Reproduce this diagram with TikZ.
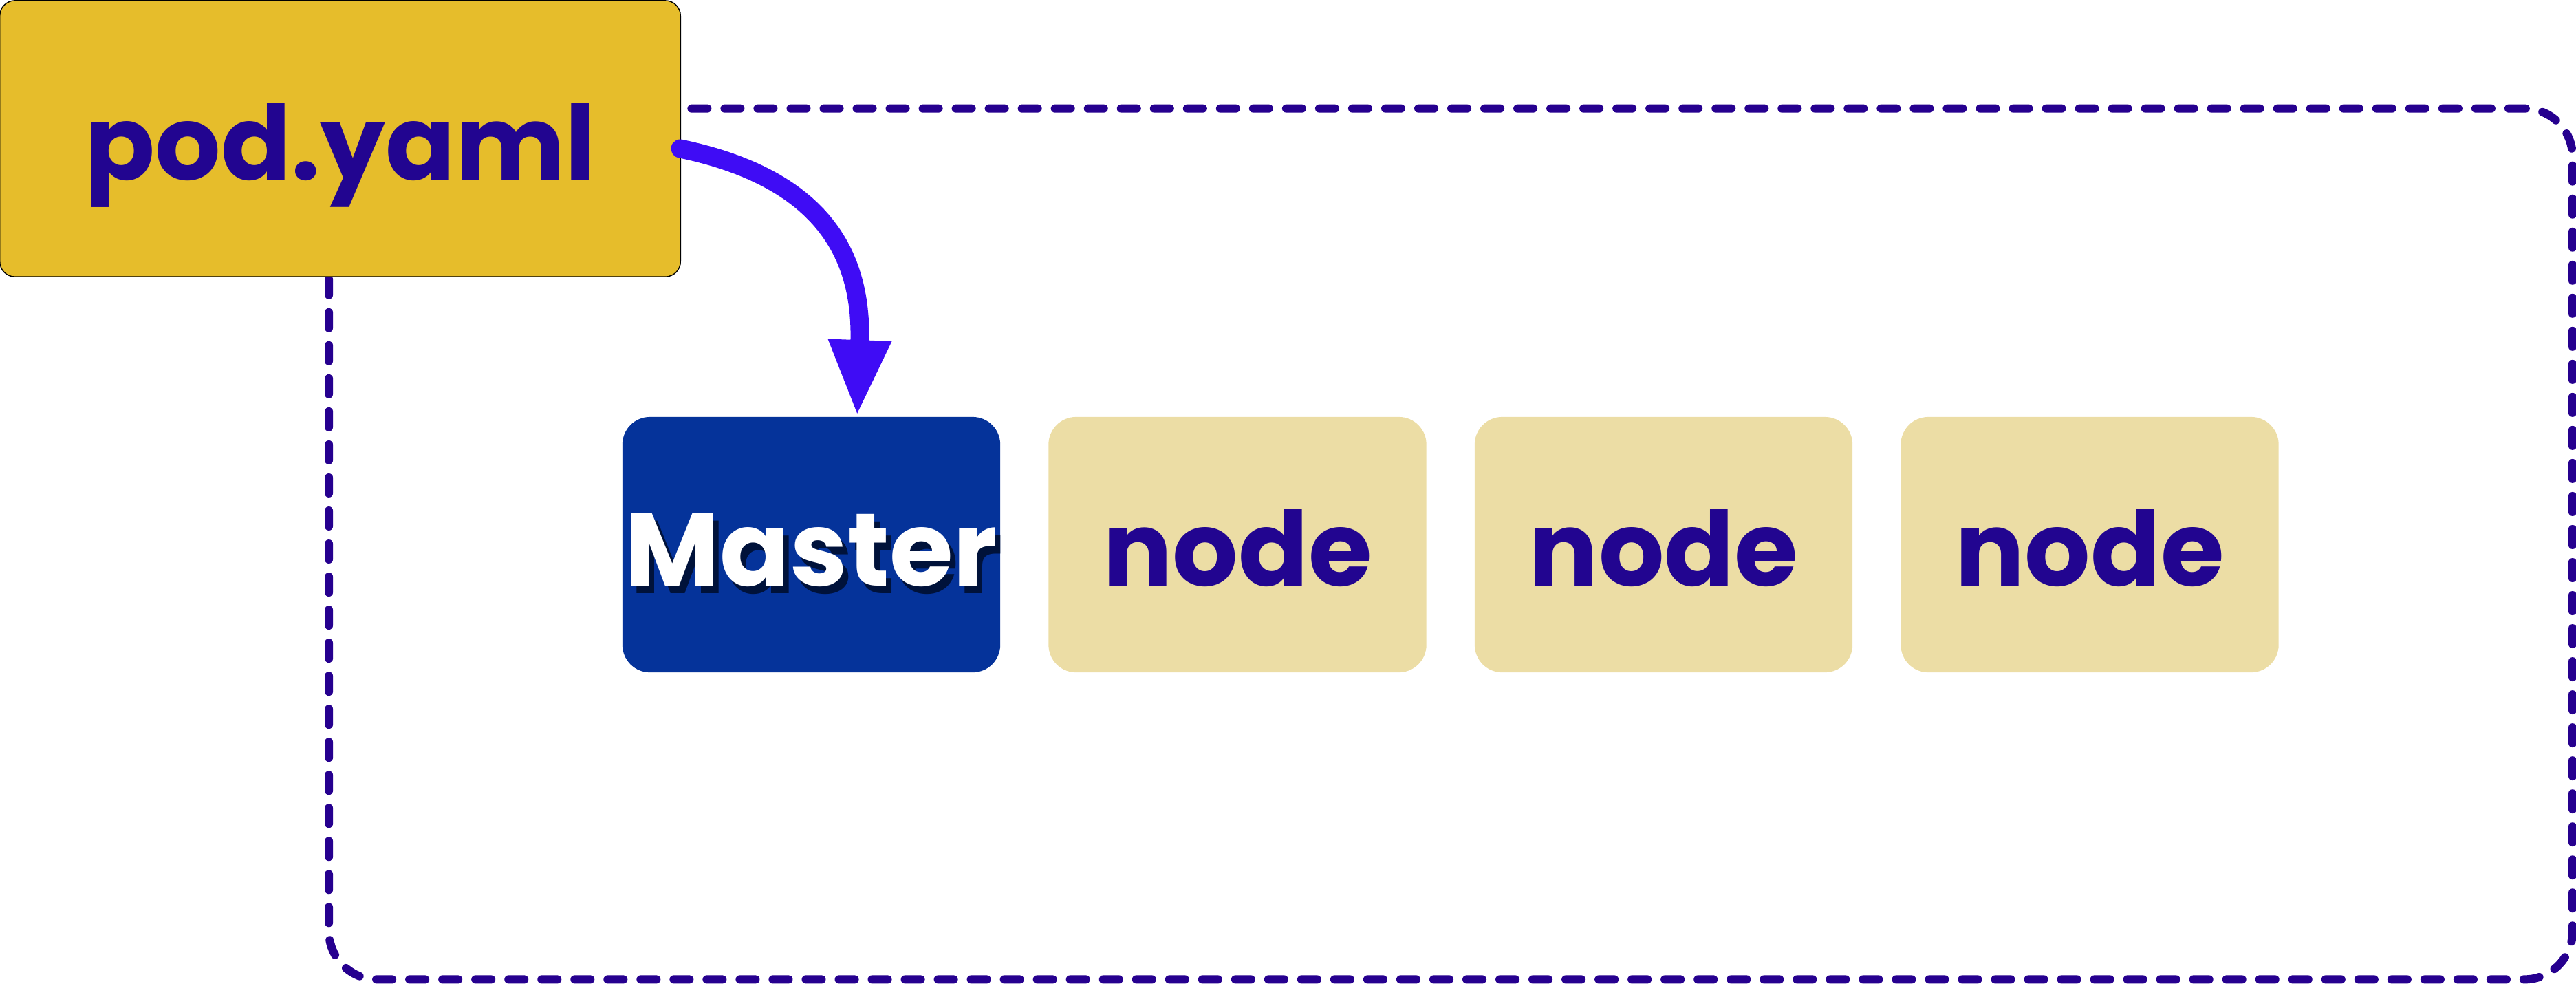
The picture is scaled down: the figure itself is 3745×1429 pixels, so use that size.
\documentclass[tikz,border=0pt]{standalone}
\usepackage{fontspec}
\setmainfont{Poppins}
\usetikzlibrary{arrows.meta,calc}
\definecolor{ink}{RGB}{34,5,144}
\definecolor{dashc}{RGB}{38,0,143}
\definecolor{podfill}{RGB}{230,189,43}
\definecolor{nodefill}{RGB}{236,221,165}
\definecolor{masterfill}{RGB}{5,51,154}
\definecolor{shadowc}{RGB}{0,18,58}
\definecolor{flowc}{RGB}{63,12,245}
\newcommand{\shadowtext}[1]{\rlap{\hspace{0.08cm}\raisebox{-0.11cm}{\color{shadowc}#1}}#1}
\begin{document}
\begin{tikzpicture}[x=0.01cm,y=-0.01cm,
  lbl/.style={font=\fontsize{42.7}{50}\selectfont\bfseries, text height=1.2cm, text depth=0cm, inner sep=0pt},
  podbox/.style={lbl, draw=black, line width=0.4pt, fill=podfill, rounded corners=0.22cm, minimum width=9.89cm, minimum height=4.01cm, text=ink},
  workerbox/.style={lbl, fill=nodefill, rounded corners=0.4cm, minimum width=5.49cm, minimum height=3.71cm, text=ink},
  masterbox/.style={workerbox, fill=masterfill, text=white},
  cluster/.style={draw=dashc, line width=0.12cm, dash pattern=on 0.23cm off 0.25cm, line cap=round, rounded corners=0.7cm, minimum width=32.6cm, minimum height=12.65cm, inner sep=0pt},
  flow/.style={draw=flowc, line width=0.27cm, line cap=round, -{Triangle[length=1.11cm,width=0.84cm]}}
]
\useasboundingbox (0,0) rectangle (3745,1429);
\node[cluster] (cl) at (2109,790.5) {};
\node[podbox] (pod) at (494.5,201.5) {pod.yaml};
\node[masterbox] (master) at (1179.5,791.5) {\shadowtext{Master}};
\node[workerbox] (w1) at (1799,791.5) {node};
\node[workerbox] (w2) at (2418.5,791.5) {node};
\node[workerbox] (w3) at (3038,791.5) {node};
\draw[flow] ($(pod.east)+(-1,14.5)$) .. controls (1210,262) and (1254,385) .. ($(master.north)+(66.5,0)$);
\end{tikzpicture}
\end{document}
